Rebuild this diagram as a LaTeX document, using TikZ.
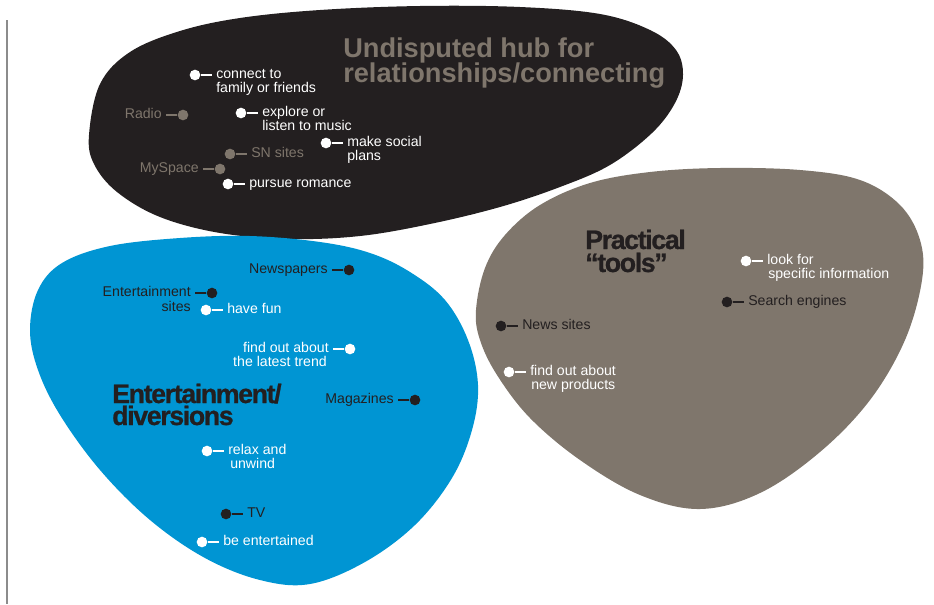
\documentclass[tikz,border=0pt]{standalone}
\usepackage{fontspec}
\setmainfont{Liberation Sans}
\newfontfamily\titlefont{Liberation Sans}[LetterSpace=-5,FakeBold=0.8]
\definecolor{ink}{HTML}{231F20}
\definecolor{taupe}{HTML}{7F766C}
\definecolor{skyblue}{HTML}{0095D3}
\definecolor{rulegray}{HTML}{8C8C8C}
\begin{document}
\begin{tikzpicture}[x=0.75pt,y=-0.75pt,
  dot/.style={circle,inner sep=0pt,minimum size=8pt,draw=none},
  dotw/.style={dot,fill=white},
  dotk/.style={dot,fill=ink},
  dotg/.style={dot,fill=taupe},
  lbl/.style={inner xsep=3pt,inner ysep=0pt,text height=7.5pt,text depth=2.2pt,
              font=\fontsize{10.6pt}{10.6pt}\selectfont},
  lr/.style={lbl,anchor=west},
  ll/.style={lbl,anchor=east},
  conn/.style={line width=1pt},
  ttl/.style={inner sep=0pt,anchor=base west,
              font=\titlefont\bfseries\fontsize{20pt}{20pt}\selectfont},
  hubttl/.style={inner sep=0pt,anchor=base west,text=taupe,
              font=\bfseries\fontsize{20.4pt}{20.4pt}\selectfont}
]
\useasboundingbox (0,0) rectangle (934,604);
\draw[rulegray,line width=0.8pt] (7,20) -- (7,604);

% blobs
\fill[ink] plot[smooth cycle,tension=0.6] coordinates {
 (89,135) (100,84) (130,52) (180,31) (240,18) (320,10) (420,6) (520,7) (600,14)
 (650,30) (676,50) (683,75) (675,103) (652,133) (610,165) (560,187) (500,207)
 (430,224) (360,236) (290,239) (220,233) (160,217) (117,192) (94,164)};
\fill[skyblue] plot[smooth cycle,tension=0.6] coordinates {
 (30,330) (38,290) (62,263) (110,246) (180,238) (250,236) (320,242) (370,253)
 (410,272) (445,300) (468,340) (478,385) (472,430) (452,478) (415,525) (365,562)
 (310,584) (260,580) (205,558) (150,520) (100,470) (60,415) (38,370)};
\fill[taupe] plot[smooth cycle,tension=0.6] coordinates {
 (476,310) (485,268) (505,235) (540,205) (590,183) (650,172) (720,168) (800,170)
 (860,180) (900,205) (920,240) (922,280) (905,340) (870,400) (820,452) (760,493)
 (700,509) (640,495) (580,460) (530,418) (497,375) (480,340)};

% titles
\node[hubttl] (t1a) at (343,57) {Undisputed hub for};
\node[hubttl] (t1b) at (343,82) {relationships/connecting};
\node[ttl,text=ink] (t2a) at (112,403) {Entertainment/};
\node[ttl,text=ink] (t2b) at (112,425) {diversions};
\node[ttl,text=ink] (t3a) at (585,249) {Practical};
\node[ttl,text=ink] (t3b) at (585,272) {“tools”};

% black blob items
\node[dotw] (a1) at (195,75) {};
\node[lr,text=white] (a1l) at (212,75) {connect to};
\node[lr,text=white] (a1m) at (212,89) {family or friends};
\draw[conn,white] (a1) -- (a1l);

\node[dotg] (a2) at (183,115) {};
\node[ll,text=taupe] (a2l) at (166,115) {Radio};
\draw[conn,taupe] (a2) -- (a2l);

\node[dotw] (a3) at (241,113) {};
\node[lr,text=white] (a3l) at (258,113) {explore or};
\node[lr,text=white] (a3m) at (258,127) {listen to music};
\draw[conn,white] (a3) -- (a3l);

\node[dotw] (a4) at (326,143) {};
\node[lr,text=white] (a4l) at (343,143) {make social};
\node[lr,text=white] (a4m) at (343,157) {plans};
\draw[conn,white] (a4) -- (a4l);

\node[dotg] (a5) at (230,154) {};
\node[lr,text=taupe] (a5l) at (247,154) {SN sites};
\draw[conn,taupe] (a5) -- (a5l);

\node[dotg] (a6) at (220,169) {};
\node[ll,text=taupe] (a6l) at (203,169) {MySpace};
\draw[conn,taupe] (a6) -- (a6l);

\node[dotw] (a7) at (228,184) {};
\node[lr,text=white] (a7l) at (245,184) {pursue romance};
\draw[conn,white] (a7) -- (a7l);

% blue blob items
\node[dotk] (b1) at (349,270) {};
\node[ll,text=ink] (b1l) at (332,270) {Newspapers};
\draw[conn,ink] (b1) -- (b1l);

\node[dotk] (b2) at (212,293) {};
\node[ll,text=ink] (b2l) at (195,293) {Entertainment};
\node[ll,text=ink] (b2m) at (195,308) {sites};
\draw[conn,ink] (b2) -- (b2l);

\node[dotw] (b3) at (206,310) {};
\node[lr,text=white] (b3l) at (223,310) {have fun};
\draw[conn,white] (b3) -- (b3l);

\node[dotw] (b4) at (350,349) {};
\node[ll,text=white] (b4l) at (333,349) {find out about};
\node[ll,text=white] (b4m) at (331,363) {the latest trend};
\draw[conn,white] (b4) -- (b4l);

\node[dotk] (b5) at (415,400) {};
\node[ll,text=ink] (b5l) at (398,400) {Magazines};
\draw[conn,ink] (b5) -- (b5l);

\node[dotw] (b6) at (207,451) {};
\node[lr,text=white] (b6l) at (224,451) {relax and};
\node[lr,text=white] (b6m) at (226,465) {unwind};
\draw[conn,white] (b6) -- (b6l);

\node[dotk] (b7) at (226,514) {};
\node[lr,text=ink] (b7l) at (243,514) {TV};
\draw[conn,ink] (b7) -- (b7l);

\node[dotw] (b8) at (202,542) {};
\node[lr,text=white] (b8l) at (219,542) {be entertained};
\draw[conn,white] (b8) -- (b8l);

% gray blob items
\node[dotw] (c1) at (746,261) {};
\node[lr,text=white] (c1l) at (763,261) {look for};
\node[lr,text=white] (c1m) at (764,275) {specific information};
\draw[conn,white] (c1) -- (c1l);

\node[dotk] (c2) at (727,302) {};
\node[lr,text=ink] (c2l) at (744,302) {Search engines};
\draw[conn,ink] (c2) -- (c2l);

\node[dotk] (c3) at (501,326) {};
\node[lr,text=ink] (c3l) at (518,326) {News sites};
\draw[conn,ink] (c3) -- (c3l);

\node[dotw] (c4) at (509,372) {};
\node[lr,text=white] (c4l) at (526,372) {find out about};
\node[lr,text=white] (c4m) at (527,386) {new products};
\draw[conn,white] (c4) -- (c4l);
\end{tikzpicture}
\end{document}
